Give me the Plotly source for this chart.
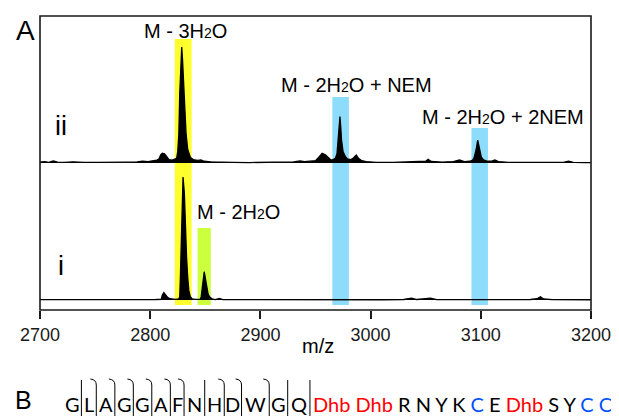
import plotly.graph_objects as go

# ---------------- data ----------------
# spectrum ii (upper trace): (m/z, relative intensity %)
spectrum_ii = [
    (2700, 0.8), (2704, 1.2), (2708, 0.6), (2712, 1.8), (2716, 0.7), (2722, 0.5),
    (2730, 1.0), (2740, 0.5), (2752, 0.6), (2765, 0.4), (2778, 0.7), (2788, 0.9),
    (2793, 1.6), (2798, 1.2), (2803, 2.0), (2806, 2.5), (2808, 3.5), (2809.5, 7),
    (2811, 8.5), (2813, 8), (2815.4, 5), (2817, 3), (2820, 2.5), (2822, 3), (2824, 4),
    (2825, 10), (2826, 25), (2826.8, 60), (2827.8, 92), (2828.6, 100), (2829.3, 90),
    (2830, 75), (2830.7, 62), (2831.5, 40), (2832.5, 26), (2834, 12), (2836.4, 5),
    (2839, 3), (2843, 2.2), (2846, 2.6), (2849, 1.5), (2855, 1.0), (2862, 0.6),
    (2875, 0.5), (2890, 0.4), (2905, 0.5), (2918, 0.6), (2930, 0.9), (2936, 1.8),
    (2940, 1.2), (2945, 1.6), (2950, 2.0), (2953, 5), (2956, 8.4), (2959, 7),
    (2962.3, 4), (2964, 2.6), (2966, 3), (2968, 4), (2969.5, 8), (2970.4, 20),
    (2971.3, 32), (2972.2, 40), (2973, 30), (2973.6, 20), (2975, 10), (2977.2, 5.4),
    (2979, 3.5), (2982, 3), (2984, 4), (2987, 6.9), (2989, 4), (2992, 2), (2996, 1.2),
    (3005, 0.6), (3020, 0.5), (3035, 0.8), (3045, 1.0), (3050, 1.5), (3052.2, 3.2),
    (3055, 1.3), (3065, 0.8), (3075, 1.2), (3080.7, 2.6), (3085, 1.2), (3090, 1.5),
    (3092.7, 2.6), (3094, 5), (3095.7, 11.2), (3097.2, 19.8), (3099, 11.2),
    (3100.5, 5), (3102.6, 2.6), (3106, 1.5), (3110, 1.6), (3112.8, 2.6), (3116, 1.2),
    (3125, 0.6), (3140, 0.5), (3160, 0.5), (3175, 0.6), (3179.6, 1.5), (3184, 0.5),
    (3195, 0.4), (3200, 0.4),
]
# spectrum i (lower trace)
spectrum_i = [
    (2700, 0.3), (2720, 0.2), (2740, 0.3), (2760, 0.2), (2780, 0.3), (2795, 0.3),
    (2805, 0.4), (2810, 0.6), (2811, 4), (2812.4, 6), (2814, 4), (2816, 2), (2818, 1),
    (2820, 0.6), (2823, 0.5), (2826, 1), (2826.8, 2.7), (2827.4, 19), (2828.3, 60),
    (2828.9, 87), (2829.8, 100), (2831.0, 87), (2831.9, 60), (2833, 35), (2834, 19),
    (2835, 8), (2836.4, 2.7), (2838, 1), (2841, 0.5), (2845.5, 0.6), (2846.3, 2.7),
    (2847.5, 11), (2848.3, 20), (2849, 23), (2849.8, 19), (2851.1, 11), (2852.5, 5),
    (2853.8, 2.7), (2856, 1), (2859, 0.4), (2862.8, 1.2), (2866, 0.3), (2890, 0.2),
    (2920, 0.3), (2950, 0.2), (2980, 0.3), (3010, 0.2), (3030, 0.4), (3037.2, 1.4),
    (3042, 0.4), (3054.3, 1.4), (3060, 0.3), (3090, 0.3), (3120, 0.2), (3145, 0.4),
    (3151, 1), (3154.1, 2.7), (3157, 0.8), (3165, 0.3), (3200, 0.2),
]
mz_ii = [p[0] for p in spectrum_ii]
int_ii = [p[1] for p in spectrum_ii]
mz_i = [p[0] for p in spectrum_i]
int_i = [p[1] for p in spectrum_i]

# highlighted m/z windows
band_names = ["M - 3H2O", "M - 2H2O", "M - 2H2O + NEM", "M - 2H2O + 2NEM"]
band_lo = [2822.3, 2843.0, 2965.3, 3091.5]
band_hi = [2837.6, 2855.0, 2980.3, 3106.5]

x_ticks = [2700, 2800, 2900, 3000, 3100, 3200]

# panel B sequence
frag_residues = ["G", "L", "A", "G", "G", "A", "F", "N", "H", "D", "W", "G", "Q"]
frag_hook = [0, 1, 1, 1, 1, 1, 1, 0, 1, 1, 1, 0, 0]
tail_residues = ["Dhb", "Dhb", "R", "N", "Y", "K", "C", "E", "Dhb", "S", "Y", "C", "C"]
tail_kind = ["dhb", "dhb", "aa", "aa", "aa", "aa", "cys", "aa", "dhb", "aa", "aa", "cys", "cys"]

# ---------------- layout helpers ----------------
# the page body has an 8 px margin, so the figure starts at page (8, 8)
OFF = 8
W, H = 619 - OFF, 416 - OFF
L, R, T, B = 40, 595, 16, 310          # plot area in page pixels
PW, PH = R - L, B - T


def px(x):
    return (x - L) / PW


def py(y):
    return (B - y) / PH


fig = go.Figure()

fig.add_trace(go.Scatter(x=mz_i, y=int_i, mode="lines", fill="tozeroy",
                         line=dict(color="black", width=1.3), fillcolor="black",
                         xaxis="x", yaxis="y", hoverinfo="skip", showlegend=False))
fig.add_trace(go.Scatter(x=mz_ii, y=int_ii, mode="lines", fill="tozeroy",
                         line=dict(color="black", width=1.3), fillcolor="black",
                         xaxis="x", yaxis="y2", hoverinfo="skip", showlegend=False))

band_colors = {"M - 3H2O": "#ffff2e", "M - 2H2O": "#ccff3c",
               "M - 2H2O + NEM": "#8ddcfc", "M - 2H2O + 2NEM": "#8ddcfc"}
band_top = {"M - 3H2O": 39, "M - 2H2O": 228, "M - 2H2O + NEM": 97, "M - 2H2O + 2NEM": 128}
shapes = []
for name, lo, hi in zip(band_names, band_lo, band_hi):
    shapes.append(dict(type="rect", xref="x", yref="paper", x0=lo, x1=hi,
                       y0=py(305), y1=py(band_top[name]), fillcolor=band_colors[name],
                       line=dict(width=0), layer="below"))
# frame
shapes.append(dict(type="rect", xref="paper", yref="paper", x0=0, x1=1, y0=0, y1=1,
                   line=dict(color="#1a1a1a", width=1.6), fillcolor="rgba(0,0,0,0)"))

annotations = []
FONT = "Liberation Sans, Arial"


def label_html(name):
    return name.replace("H2O", "H<span style='font-size:14px'>2</span>O")


label_pos = {"M - 3H2O": (186.7, 31), "M - 2H2O": (239.7, 212),
             "M - 2H2O + NEM": (359, 85), "M - 2H2O + 2NEM": (506.3, 116.5)}
for name in band_names:
    xx, yy = label_pos[name]
    annotations.append(dict(x=px(xx), y=py(yy), xref="paper", yref="paper",
                            text=label_html(name), showarrow=False,
                            font=dict(size=20, family=FONT, color="black"),
                            xanchor="center", yanchor="middle"))

for txt, xx, yy, sz in [("A", 25, 30, 28), ("ii", 61, 126, 27), ("i", 61, 266, 27),
                        ("B", 23, 400, 25)]:
    annotations.append(dict(x=px(xx), y=py(yy), xref="paper", yref="paper", text=txt,
                            showarrow=False, xanchor="center", yanchor="middle",
                            font=dict(size=sz, family=FONT, color="black")))

annotations.append(dict(x=px(320), y=py(346), xref="paper", yref="paper", text="m/z",
                        showarrow=False, xanchor="center", yanchor="middle",
                        font=dict(size=20, family=FONT, color="black")))

# sequence panel B
cell_w = {"G": 18.6, "L": 15.0, "A": 18.7, "F": 13.8, "N": 20.8, "H": 19.7,
          "D": 17.4, "W": 27.9, "Q": 22.4}
seq_font = dict(size=20, family="Lato", color="black")
seq_y = 404
x_cur = 63.1
for res, hook in zip(frag_residues, frag_hook):
    w = cell_w[res]
    annotations.append(dict(x=px(x_cur + w / 2), y=py(seq_y), xref="paper", yref="paper",
                            text=res, showarrow=False, xanchor="center", yanchor="middle",
                            font=seq_font))
    x_cur += w
    xs = px(x_cur)
    if hook:
        path = (f"M {px(x_cur - 6)},{py(379)} Q {xs},{py(379.5)} {xs},{py(385)} "
                f"L {xs},{py(417)}")
    else:
        path = f"M {xs},{py(380)} L {xs},{py(417)}"
    shapes.append(dict(type="path", xref="paper", yref="paper", path=path,
                       line=dict(color="black", width=1)))

kind_color = {"dhb": "#ff0000", "aa": "#000000", "cys": "#0050ff"}
tail_html = " ".join(f"<span style='color:{kind_color[k]}'>{r}</span>"
                     for r, k in zip(tail_residues, tail_kind))
annotations.append(dict(x=px(x_cur + 1), y=py(seq_y), xref="paper", yref="paper",
                        text=tail_html, showarrow=False, xanchor="left", yanchor="middle",
                        font=seq_font))

fig.update_layout(
    width=W, height=H, autosize=False,
    margin=dict(l=L - OFF, r=619 - R, t=T - OFF, b=416 - B, pad=0),
    paper_bgcolor="white", plot_bgcolor="rgba(0,0,0,0)",
    showlegend=False,
    xaxis=dict(range=[2700, 3200], tickmode="array", tickvals=x_ticks,
               ticktext=[str(v) for v in x_ticks], ticks="outside", ticklen=8,
               tickwidth=1.5, tickcolor="#1a1a1a", showgrid=False, zeroline=False,
               showline=False, anchor="y",
               tickfont=dict(size=18, family=FONT, color="#1a1a1a")),
    yaxis=dict(domain=[0, 0.5], range=[-10 / 1.23, 137 / 1.23], visible=False,
               fixedrange=True),
    yaxis2=dict(domain=[0.45, 1], range=[-14.7 / 1.16, 147 / 1.16], visible=False,
                anchor="x", fixedrange=True),
    shapes=shapes, annotations=annotations,
)

fig.write_html("out.html")
